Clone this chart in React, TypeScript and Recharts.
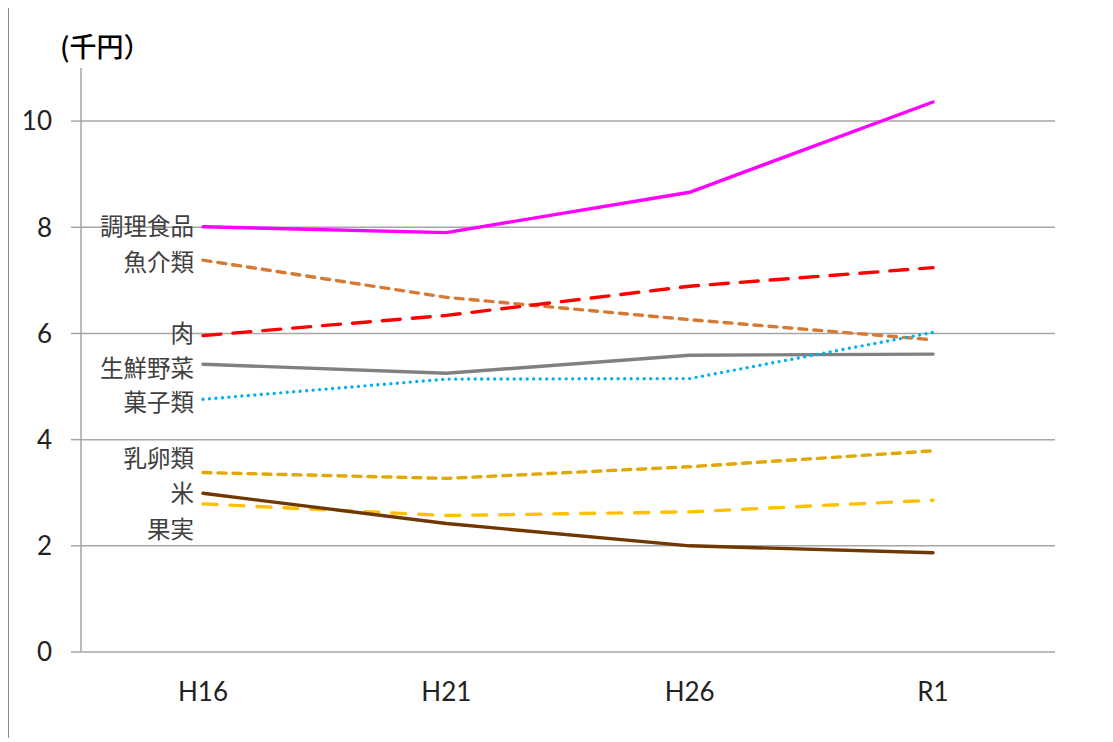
import React from 'react';
import { LineChart, Line, XAxis, YAxis, CartesianGrid, ReferenceDot } from 'recharts';

const periods = ['H16', 'H21', 'H26', 'R1'];

const prepared = [8.01, 7.9, 8.66, 10.36];      // 調理食品
const fish = [7.38, 6.68, 6.26, 5.88];          // 魚介類
const meat = [5.96, 6.34, 6.89, 7.24];          // 肉
const vegetables = [5.42, 5.25, 5.59, 5.61];    // 生鮮野菜
const sweets = [4.76, 5.14, 5.15, 6.02];        // 菓子類
const dairyEggs = [3.38, 3.27, 3.49, 3.79];     // 乳卵類
const rice = [2.79, 2.57, 2.64, 2.86];          // 米
const fruit = [2.99, 2.42, 2.0, 1.87];          // 果実

const yTicks = [0, 2, 4, 6, 8, 10];
const edgeTicks = [0, 1, 2, 3, 4];

type S = { key: string; name: string; values: number[]; color: string; dash?: string; labelY: number };

const series: S[] = [
  { key: 'prepared', name: '調理食品', values: prepared, color: '#FF00FF', labelY: 8.04 },
  { key: 'fish', name: '魚介類', values: fish, color: '#D67A33', dash: '8 7', labelY: 7.37 },
  { key: 'meat', name: '肉', values: meat, color: '#FF0000', dash: '18 12', labelY: 6.03 },
  { key: 'vegetables', name: '生鮮野菜', values: vegetables, color: '#808080', labelY: 5.37 },
  { key: 'sweets', name: '菓子類', values: sweets, color: '#00B0F0', dash: '0 6.5', labelY: 4.73 },
  { key: 'dairyEggs', name: '乳卵類', values: dairyEggs, color: '#E0A800', dash: '8 7', labelY: 3.67 },
  { key: 'rice', name: '米', values: rice, color: '#FFC000', dash: '14 13', labelY: 3.02 },
  { key: 'fruit', name: '果実', values: fruit, color: '#703800', labelY: 2.33 },
];

const data = periods.map((p, i) => {
  const row: Record<string, string | number> = { period: p };
  series.forEach((s) => {
    row[s.key] = s.values[i];
  });
  return row;
});

const GRAY = '#A6A6A6';
const FRAME = '#8a8a8a';
const tickFont = { fontFamily: 'Lato, "Open Sans", sans-serif', fontSize: 26, fill: '#222' };

const makeLabel = (text: string) => (props: any) => {
  const vb = props.viewBox || {};
  const cx = (vb.x || 0) + (vb.width || 0) / 2;
  const cy = (vb.y || 0) + (vb.height || 0) / 2;
  return (
    <text
      x={cx - 9}
      y={cy}
      textAnchor="end"
      dominantBaseline="central"
      fontFamily='"Noto Sans CJK JP", sans-serif'
      fontSize={23.5}
      fill="#404040"
    >
      {text}
    </text>
  );
};

export default function App() {
  return (
    <div
      style={{
        position: 'relative',
        marginTop: -8,
        width: 1105,
        height: 738,
        background: '#fff',
      }}
    >
      <div
        style={{
          position: 'absolute',
          left: 0,
          top: 6,
          width: 1105,
          height: 732,
          borderTop: '1.5px solid ' + FRAME,
          borderLeft: '1px solid ' + FRAME,
          boxSizing: 'border-box',
          pointerEvents: 'none',
          zIndex: 2,
        }}
      />
      <div
        style={{
          position: 'absolute',
          left: 52,
          top: 31,
          fontFamily: '"Noto Sans CJK JP", sans-serif',
          fontSize: 27,
          lineHeight: '30px',
          color: '#000',
          fontWeight: 500,
          whiteSpace: 'nowrap',
        }}
      >
        (千円）
      </div>
      <div style={{ position: 'absolute', left: 1, top: 7 }}>
        <LineChart width={1100} height={715} data={data} margin={{ top: 61, right: 54, bottom: 0, left: 0 }}>
          <XAxis
            xAxisId="edge"
            type="number"
            domain={[0, 4]}
            ticks={edgeTicks}
            interval={0}
            height={0}
            tickSize={10}
            tickFormatter={() => ''}
            axisLine={{ stroke: GRAY, strokeWidth: 1.5 }}
            tickLine={{ stroke: GRAY, strokeWidth: 1.5 }}
            allowDataOverflow
          />
          <XAxis
            xAxisId="cat"
            dataKey="period"
            height={70}
            padding={{ left: 122, right: 122 }}
            axisLine={false}
            tickLine={false}
            tickSize={10}
            tickMargin={21}
            interval={0}
            tick={tickFont}
          />
          <YAxis
            width={72}
            domain={[0, 11]}
            ticks={yTicks}
            interval={0}
            tickSize={10}
            tickMargin={19}
            axisLine={{ stroke: GRAY, strokeWidth: 1.5 }}
            tickLine={{ stroke: GRAY, strokeWidth: 1.5 }}
            tick={tickFont}
          />
          <CartesianGrid
            xAxisId="cat"
            vertical={false}
            horizontalValues={yTicks}
            stroke={GRAY}
            strokeWidth={1.5}
          />
          {series.map((s) => (
            <Line
              key={s.key}
              xAxisId="cat"
              type="linear"
              dataKey={s.key}
              name={s.name}
              stroke={s.color}
              strokeWidth={3.4}
              strokeDasharray={s.dash}
              strokeLinecap="round"
              dot={false}
              activeDot={false}
              isAnimationActive={false}
            />
          ))}
          {series.map((s) => (
            <ReferenceDot
              key={'lbl-' + s.key}
              xAxisId="cat"
              x={periods[0]}
              y={s.labelY}
              r={0}
              fill="none"
              stroke="none"
              ifOverflow="visible"
              label={makeLabel(s.name)}
            />
          ))}
        </LineChart>
      </div>
    </div>
  );
}
